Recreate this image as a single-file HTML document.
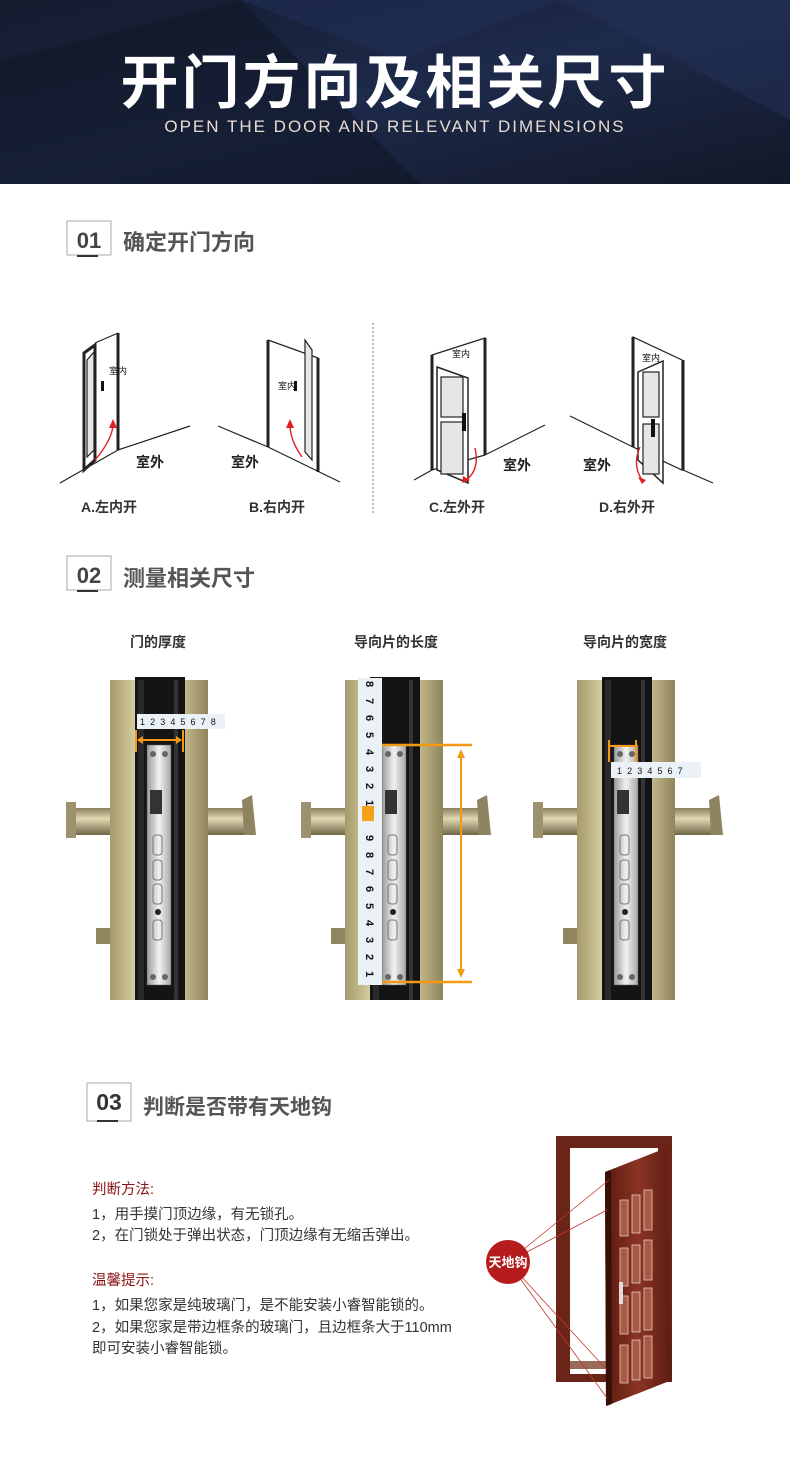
<!DOCTYPE html>
<html><head><meta charset="utf-8"><style>
html,body{margin:0;padding:0;background:#fff}
svg{display:block}
text{font-family:"Liberation Sans","Noto Sans CJK SC",sans-serif}
</style></head><body>
<svg width="790" height="1473" viewBox="0 0 790 1473" xmlns="http://www.w3.org/2000/svg">
<defs>
<linearGradient id="hd" x1="0" y1="0" x2="1" y2="1">
<stop offset="0" stop-color="#141b2e"/><stop offset="0.5" stop-color="#1d2a4a"/><stop offset="1" stop-color="#121828"/>
</linearGradient>
<linearGradient id="gold" x1="0" x2="1">
<stop offset="0" stop-color="#a59a6a"/><stop offset="0.3" stop-color="#ddd5a8"/><stop offset="0.7" stop-color="#cfc596"/><stop offset="1" stop-color="#8f845a"/>
</linearGradient>
<linearGradient id="hand" x1="0" y1="0" x2="0" y2="1">
<stop offset="0" stop-color="#8a8060"/><stop offset="0.4" stop-color="#e0d8b0"/><stop offset="1" stop-color="#6f6648"/>
</linearGradient>
<linearGradient id="steel" x1="0" x2="1">
<stop offset="0" stop-color="#9a9a9a"/><stop offset="0.5" stop-color="#f2f2f2"/><stop offset="1" stop-color="#a8a8a8"/>
</linearGradient>
<linearGradient id="wood" x1="0" x2="1">
<stop offset="0" stop-color="#5a1a10"/><stop offset="0.5" stop-color="#8a3422"/><stop offset="1" stop-color="#5c1c12"/>
</linearGradient>
<g id="lock">
<rect x="-42" y="808" width="44" height="27" fill="url(#hand)"/>
<rect x="-44" y="802" width="10" height="36" fill="#9c9270"/>
<rect x="96" y="808" width="46" height="27" fill="url(#hand)"/>
<polygon points="132,800 142,795 146,835 134,835" fill="#8e8462"/>
<rect x="-14" y="928" width="16" height="16" fill="#8f865e"/>
<rect x="0" y="680" width="98" height="320" fill="url(#gold)"/>
<rect x="25" y="677" width="50" height="323" fill="#141414"/>
<rect x="28" y="680" width="6" height="320" fill="#2a2a2a"/>
<rect x="64" y="680" width="4" height="320" fill="#333"/>
<rect x="37" y="745" width="24" height="240" fill="url(#steel)" stroke="#555" stroke-width="0.5"/>
<circle cx="43" cy="754" r="3" fill="#666"/><circle cx="55" cy="754" r="3" fill="#666"/>
<circle cx="43" cy="977" r="3" fill="#666"/><circle cx="55" cy="977" r="3" fill="#666"/>
<rect x="40" y="790" width="12" height="24" fill="#333"/>
<rect x="43" y="835" width="9" height="20" rx="3" fill="none" stroke="#777"/>
<rect x="43" y="860" width="9" height="20" rx="3" fill="none" stroke="#777"/>
<rect x="43" y="884" width="9" height="20" rx="3" fill="none" stroke="#777"/>
<circle cx="48" cy="912" r="3" fill="#222"/>
<rect x="43" y="920" width="9" height="20" rx="3" fill="none" stroke="#777"/>
</g>
</defs>

<rect x="0" y="0" width="790" height="184" fill="url(#hd)"/>
<polygon points="240,0 560,0 400,60" fill="#22305a" opacity="0.5"/>
<polygon points="560,0 790,0 790,120 640,40" fill="#25345c" opacity="0.45"/>
<polygon points="240,0 420,184 0,184 0,60" fill="#0e1422" opacity="0.5"/>
<text x="395" y="103" text-anchor="middle" font-size="58" font-weight="bold" fill="#fff" letter-spacing="3">开门方向及相关尺寸</text>
<text x="395" y="132" text-anchor="middle" font-size="17" fill="#e6ddd0" letter-spacing="2">OPEN THE DOOR AND RELEVANT DIMENSIONS</text>

<g>
<rect x="67" y="221" width="44" height="34" fill="#fff" stroke="#aaa"/>
<line x1="77" y1="256" x2="98" y2="256" stroke="#333" stroke-width="2"/>
<text x="89" y="248" text-anchor="middle" font-size="22" font-weight="bold" fill="#444">01</text>
<text x="123" y="250" font-size="22" font-weight="bold" fill="#555">确定开门方向</text>
</g>
<g>
<rect x="67" y="556" width="44" height="34" fill="#fff" stroke="#aaa"/>
<line x1="77" y1="591" x2="98" y2="591" stroke="#333" stroke-width="2"/>
<text x="89" y="583" text-anchor="middle" font-size="22" font-weight="bold" fill="#444">02</text>
<text x="123" y="586" font-size="22" font-weight="bold" fill="#555">测量相关尺寸</text>
</g>
<g>
<rect x="87" y="1083" width="44" height="38" fill="#fff" stroke="#aaa"/>
<line x1="97" y1="1121" x2="118" y2="1121" stroke="#333" stroke-width="2"/>
<text x="109" y="1110" text-anchor="middle" font-size="23" font-weight="bold" fill="#333">03</text>
<text x="143" y="1114" font-size="21" font-weight="bold" fill="#555">判断是否带有天地钩</text>
</g>

<g stroke="#222" fill="none" stroke-width="1.2">
<line x1="373" y1="323" x2="373" y2="515" stroke="#888" stroke-dasharray="2,2"/>
<polygon points="84,353 95,345 95,460 84,470" fill="#fff" stroke-width="3"/>
<line x1="118" y1="333" x2="118" y2="450" stroke-width="3"/>
<line x1="95" y1="343" x2="118" y2="333"/>
<line x1="60" y1="483" x2="118" y2="450"/>
<line x1="118" y1="450" x2="190" y2="426"/>
<polygon points="87,360 94,352 94,450 87,457" fill="#e6e6e6"/>
<line x1="268" y1="340" x2="268" y2="447" stroke-width="3"/>
<line x1="318" y1="358" x2="318" y2="472" stroke-width="3"/>
<line x1="268" y1="340" x2="318" y2="358"/>
<line x1="218" y1="426" x2="268" y2="447"/>
<line x1="268" y1="447" x2="340" y2="482"/>
<polygon points="305,340 312,350 312,460 305,452" fill="#e6e6e6"/>
<polygon points="432,355 485,338 485,455 432,470" fill="#fff"/>
<line x1="485" y1="338" x2="485" y2="455" stroke-width="3"/>
<line x1="432" y1="355" x2="432" y2="470" stroke-width="3"/>
<polygon points="437,367 468,378 468,483 437,470" fill="#fff" stroke-width="1.5"/>
<rect x="441" y="377" width="22" height="40" fill="#e6e6e6"/>
<rect x="441" y="422" width="22" height="52" fill="#e6e6e6"/>
<line x1="485" y1="455" x2="545" y2="425"/>
<line x1="432" y1="470" x2="414" y2="480"/>
<polygon points="633,337 682,360 682,470 633,447" fill="#fff"/>
<line x1="633" y1="337" x2="633" y2="447" stroke-width="3"/>
<line x1="683" y1="360" x2="683" y2="470" stroke-width="3"/>
<polygon points="638,372 663,361 663,483 638,460" fill="#fff" stroke-width="1.5"/>
<rect x="643" y="372" width="16" height="45" fill="#e6e6e6"/>
<rect x="643" y="424" width="16" height="50" fill="#e6e6e6"/>
<line x1="570" y1="416" x2="633" y2="447"/>
<line x1="683" y1="470" x2="713" y2="483"/>
</g>
<g fill="none" stroke="#e02020" stroke-width="1.4">
<path d="M95,460 Q112,440 113,425"/><path d="M302,457 Q290,440 290,425"/>
<path d="M475,448 Q480,470 466,480"/><path d="M640,447 Q632,465 642,480"/>
</g>
<g fill="#e02020">
<polygon points="109,428 113,419 117,428"/><polygon points="286,428 290,419 294,428"/>
<polygon points="463,476 470,480 462,483"/><polygon points="638,477 646,480 642,484"/>
</g>
<g fill="#111" font-size="9">
<text x="109" y="374">室内</text><text x="278" y="389">室内</text>
<text x="452" y="357">室内</text><text x="642" y="361">室内</text>
<rect x="101" y="381" width="3" height="10"/><rect x="294" y="381" width="3" height="10"/>
<rect x="462" y="413" width="4" height="18"/><rect x="651" y="419" width="4" height="18"/>
</g>
<g fill="#222" font-size="14" font-weight="bold">
<text x="136" y="467">室外</text><text x="231" y="467">室外</text>
<text x="503" y="470">室外</text><text x="583" y="470">室外</text>
</g>
<g fill="#333" font-size="14" font-weight="bold">
<text x="81" y="512">A.左内开</text><text x="249" y="512">B.右内开</text>
<text x="429" y="512">C.左外开</text><text x="599" y="512">D.右外开</text>
</g>

<g fill="#333" font-size="14" font-weight="bold" text-anchor="middle">
<text x="158" y="647">门的厚度</text><text x="396" y="647">导向片的长度</text><text x="625" y="647">导向片的宽度</text>
</g>
<use href="#lock" transform="translate(110,0)"/>
<use href="#lock" transform="translate(345,0)"/>
<use href="#lock" transform="translate(577,0)"/>
<rect x="137" y="714" width="88" height="15" fill="#eaf2f8"/>
<text x="140" y="725" font-size="9" fill="#111" letter-spacing="1.3">1 2 3 4 5 6 7 8</text>
<g stroke="#f39a12" stroke-width="2" fill="#f39a12">
<line x1="136" y1="730" x2="136" y2="752"/><line x1="183" y1="730" x2="183" y2="752"/>
<line x1="138" y1="740" x2="181" y2="740"/>
<polygon points="137,740 143,736 143,744" stroke="none"/><polygon points="182,740 176,736 176,744" stroke="none"/>
</g>
<rect x="358" y="678" width="24" height="307" fill="#eaf2f8"/>
<g font-size="11" fill="#111" font-weight="bold" text-anchor="middle">
<text transform="translate(366,684) rotate(90)">8</text><text transform="translate(366,701) rotate(90)">7</text>
<text transform="translate(366,718) rotate(90)">6</text><text transform="translate(366,735) rotate(90)">5</text>
<text transform="translate(366,752) rotate(90)">4</text><text transform="translate(366,769) rotate(90)">3</text>
<text transform="translate(366,786) rotate(90)">2</text><text transform="translate(366,803) rotate(90)">1</text>
<rect x="362" y="806" width="12" height="15" fill="#f3a21a"/>
<text transform="translate(366,838) rotate(90)">9</text><text transform="translate(366,855) rotate(90)">8</text>
<text transform="translate(366,872) rotate(90)">7</text><text transform="translate(366,889) rotate(90)">6</text>
<text transform="translate(366,906) rotate(90)">5</text><text transform="translate(366,923) rotate(90)">4</text>
<text transform="translate(366,940) rotate(90)">3</text><text transform="translate(366,957) rotate(90)">2</text>
<text transform="translate(366,974) rotate(90)">1</text>
</g>
<g stroke="#f39a12" stroke-width="2.5" fill="#f39a12">
<line x1="382" y1="745" x2="472" y2="745"/><line x1="382" y1="982" x2="472" y2="982"/>
<line x1="461" y1="752" x2="461" y2="976" stroke-width="2"/>
<polygon points="461,749 457,758 465,758" stroke="none"/><polygon points="461,978 457,969 465,969" stroke="none"/>
</g>
<rect x="611" y="762" width="90" height="16" fill="#eaf2f8"/>
<text x="617" y="774" font-size="9" fill="#111" letter-spacing="1.3">1 2 3 4 5 6 7</text>
<g stroke="#f39a12" stroke-width="2" fill="none">
<line x1="609" y1="740" x2="609" y2="762"/><line x1="636" y1="740" x2="636" y2="762"/>
<line x1="610" y1="746" x2="635" y2="746"/>
</g>

<g font-size="14.5" fill="#333">
<text x="92" y="1194" fill="#8a1414">判断方法:</text>
<text x="92" y="1219">1，用手摸门顶边缘，有无锁孔。</text>
<text x="92" y="1240">2，在门锁处于弹出状态，门顶边缘有无缩舌弹出。</text>
<text x="92" y="1285" fill="#8a1414">温馨提示:</text>
<text x="92" y="1310">1，如果您家是纯玻璃门，是不能安装小睿智能锁的。</text>
<text x="92" y="1332">2，如果您家是带边框条的玻璃门，且边框条大于110mm</text>
<text x="92" y="1353">即可安装小睿智能锁。</text>
</g>
<rect x="556" y="1136" width="116" height="246" fill="#6a2418"/>
<rect x="570" y="1148" width="88" height="226" fill="#fff"/>
<rect x="570" y="1361" width="88" height="8" fill="#9a6a5a"/>
<polygon points="605,1172 666,1148 672,1380 606,1406" fill="url(#wood)"/>
<polygon points="605,1172 611,1170 612,1404 606,1406" fill="#3a0e08"/>
<g fill="#a85a44" stroke="#e8c8c0" stroke-width="0.8">
<rect x="620" y="1200" width="8" height="36"/><rect x="632" y="1195" width="8" height="38"/><rect x="644" y="1190" width="8" height="40"/>
<rect x="620" y="1248" width="8" height="38"/><rect x="632" y="1245" width="8" height="38"/><rect x="644" y="1240" width="8" height="40"/>
<rect x="620" y="1296" width="8" height="38"/><rect x="632" y="1292" width="8" height="40"/><rect x="644" y="1288" width="8" height="42"/>
<rect x="620" y="1345" width="8" height="38"/><rect x="632" y="1340" width="8" height="40"/><rect x="644" y="1336" width="8" height="42"/>
</g>
<rect x="619" y="1282" width="4" height="22" fill="#ddd"/>
<g stroke="#c0392b" stroke-width="0.8">
<line x1="508" y1="1262" x2="609" y2="1180"/><line x1="508" y1="1262" x2="607" y2="1210"/>
<line x1="508" y1="1262" x2="607" y2="1370"/><line x1="508" y1="1262" x2="607" y2="1398"/>
</g>
<circle cx="508" cy="1262" r="22" fill="#b71c1c"/>
<text x="508" y="1267" text-anchor="middle" font-size="13" font-weight="bold" fill="#fff">天地钩</text>
</svg>
</body></html>
